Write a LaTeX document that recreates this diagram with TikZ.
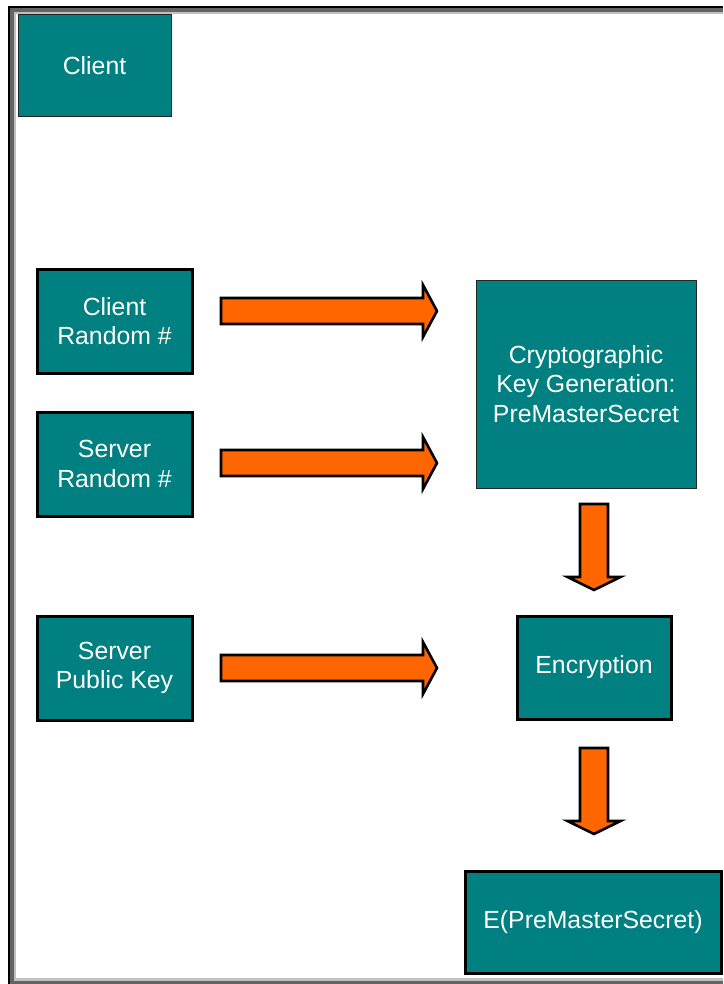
\documentclass[tikz,border=0pt]{standalone}
\usepackage{fontspec}
\setmainfont{Liberation Sans}
\definecolor{boxteal}{HTML}{008080}
\definecolor{arroworange}{HTML}{FF6600}
\definecolor{framedark}{HTML}{646464}
\definecolor{framelight}{HTML}{C0C0C0}
\begin{document}
\begin{tikzpicture}[x=0.5pt,y=-0.5pt,
  every node/.style={font=\fontsize{12.4}{14.8}\selectfont},
  tealbox/.style={rectangle,fill=boxteal,text=white,align=center,inner sep=0pt},
  thinbox/.style={tealbox,draw=black!85,line width=0.5pt},
  thickbox/.style={tealbox,draw=black,line width=1.5pt},
  blockarrow/.style={fill=arroworange,draw=black,line width=1.3pt,line join=miter},
  harrow/.pic={\draw[blockarrow] (0,-13) -- (202,-13) -- (202,-26) -- (216,0)
     -- (202,26) -- (202,13) -- (0,13) -- cycle;},
  varrow/.pic={\draw[blockarrow] (-14,0) -- (14,0) -- (14,73) -- (26.5,73) -- (0,86)
     -- (-26.5,73) -- (-14,73) -- cycle;}]
  \useasboundingbox (0,0) rectangle (723,984);
  \fill[white] (0,0) rectangle (723,984);

  % window frame
  \fill[black] (8,6) rectangle (10,984);
  \fill[black] (8,6) rectangle (723,8);
  \fill[framedark] (10,8) rectangle (14,984);
  \fill[framedark] (10,8) rectangle (723,12);
  \fill[framedark] (10,981) rectangle (723,984);
  \fill[framelight] (14,12) rectangle (16,981);
  \fill[framelight] (14,12) rectangle (723,14);
  \fill[framelight] (14,978) rectangle (723,981);

  % boxes
  \node[thinbox,minimum width=76.5pt,minimum height=51pt] (client) at (94.5,66) {Client};
  \node[thickbox,minimum width=77.5pt,minimum height=52pt] (crand) at (114.5,321) {Client\\Random \#};
  \node[thickbox,minimum width=77.5pt,minimum height=52pt] (srand) at (114.5,464) {Server\\Random \#};
  \node[thickbox,minimum width=77.5pt,minimum height=52pt] (spub) at (114.5,668) {Server\\Public Key};
  \node[thinbox,minimum width=110pt,minimum height=104pt] (keygen) at (586,384) {Cryptographic\\Key Generation:\\PreMasterSecret};
  \node[thickbox,minimum width=77pt,minimum height=51.5pt] (enc) at (594,667.5) {Encryption};
  \node[thickbox,minimum width=128pt,minimum height=51pt] (epms) at (593,922) {E(PreMasterSecret)};

  % block arrows between the boxes
  \coordinate (a1) at (221,311);
  \coordinate (a2) at (221,463);
  \coordinate (a3) at (221,668);
  \coordinate (d1) at (594,504);
  \coordinate (d2) at (594,748);
  \pic at (a1) {harrow};
  \pic at (a2) {harrow};
  \pic at (a3) {harrow};
  \pic at (d1) {varrow};
  \pic at (d2) {varrow};
\end{tikzpicture}
\end{document}
